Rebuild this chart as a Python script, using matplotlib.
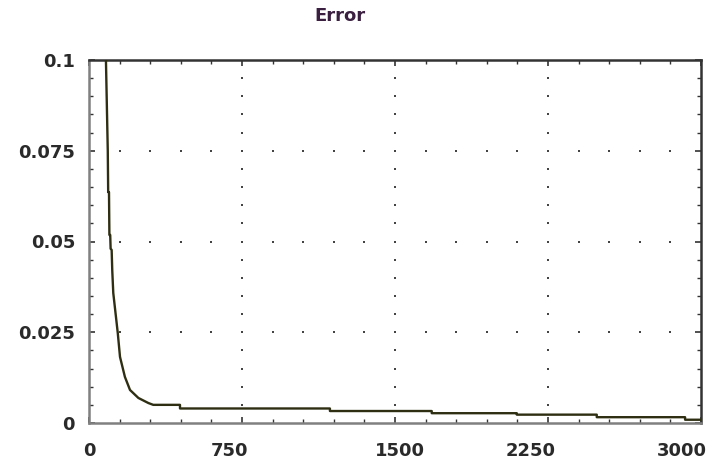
import matplotlib
matplotlib.use("Agg")
import matplotlib.pyplot as plt
import matplotlib.transforms as mtransforms
import numpy as np

# Data (iteration vs error)
iters = [78, 83, 92, 94, 98, 100, 104, 106, 111, 114, 119, 141, 152, 176, 201,
         242, 291, 315, 446, 446, 1181, 1181, 1680, 1680, 2097, 2097,
         2489, 2489, 2922, 2922, 3000]
errors = [0.102, 0.100, 0.075, 0.0636, 0.0636, 0.0518, 0.0518, 0.0480, 0.0477,
          0.0420, 0.0358, 0.0248, 0.0182, 0.0127, 0.0091, 0.0069, 0.0055,
          0.0050, 0.0050, 0.0040, 0.0040, 0.0033, 0.0033, 0.0027, 0.0027,
          0.0023, 0.0023, 0.0016, 0.0016, 0.0009, 0.0009]

x_major = [0, 750, 1500, 2250, 3000]
x_labels = ["0", "750", "1500", "2250", "3000"]
y_major = [0, 0.025, 0.05, 0.075, 0.1]
y_labels = ["0", "0.025", "0.05", "0.075", "0.1"]
x_minor_step = 150
y_minor_step = 0.005
title = "Error"

fig = plt.figure(figsize=(7.15, 4.68), dpi=100)
ax = fig.add_axes([89 / 715, 1 - 423 / 468, (701 - 89) / 715, (423 - 60) / 468])

ax.set_xlim(0, 3000)
ax.set_ylim(0, 0.1)

# dotted grid drawn as dots at minor positions
x_minor = np.arange(0, 3000 + 1, x_minor_step)
y_minor = np.arange(0, 0.1 + 1e-9, y_minor_step)
dot_color = "#444444"
for yv in y_major[1:-1]:
    ax.plot(x_minor[1:-1], [yv] * len(x_minor[1:-1]), ls="none", marker="s",
            ms=1.6, mew=0, color=dot_color, zorder=1)
for xv in x_major[1:-1]:
    ax.plot([xv] * len(y_minor[1:-1]), y_minor[1:-1], ls="none", marker="s",
            ms=1.6, mew=0, color=dot_color, zorder=1)

ax.plot(iters, errors, color="#2e2e12", lw=1.7, zorder=3, clip_on=True)

ax.set_xticks(x_major)
ax.set_xticklabels(x_labels)
ax.set_yticks(y_major)
ax.set_yticklabels(y_labels)
ax.set_xticks(x_minor, minor=True)
ax.set_yticks(y_minor, minor=True)

ax.tick_params(which="both", direction="in", top=True, right=True,
               colors="#333333")
ax.tick_params(which="major", length=4, width=1.2)
ax.tick_params(which="minor", length=3, width=1.0)
ax.tick_params(axis="x", which="major", pad=14, labelsize=13,
               labelcolor="#2a2a2a")
ax.tick_params(axis="y", which="major", pad=10, labelsize=13,
               labelcolor="#2a2a2a")
for lab in ax.get_xticklabels() + ax.get_yticklabels():
    lab.set_fontweight("bold")
    lab.set_family("DejaVu Sans")

# shift some x labels as in the reference
xl = ax.get_xticklabels()
xl[-1].set_transform(xl[-1].get_transform() +
                     mtransforms.ScaledTranslation(-19 / 100, 0, fig.dpi_scale_trans))
xl[-2].set_transform(xl[-2].get_transform() +
                     mtransforms.ScaledTranslation(-17 / 100, 0, fig.dpi_scale_trans))
xl[1].set_transform(xl[1].get_transform() +
                    mtransforms.ScaledTranslation(-12 / 100, 0, fig.dpi_scale_trans))
xl[2].set_transform(xl[2].get_transform() +
                    mtransforms.ScaledTranslation(5 / 100, 0, fig.dpi_scale_trans))

for side in ["top", "right"]:
    ax.spines[side].set_color("#333333")
    ax.spines[side].set_linewidth(1.8)
for side in ["left", "bottom"]:
    ax.spines[side].set_color("#808080")
    ax.spines[side].set_linewidth(1.8)

fig.text(340 / 715, 1 - 16 / 468, title, ha="center", va="center",
         fontsize=13, fontweight="bold", color="#3a1f40", family="DejaVu Sans")

fig.savefig("out.png", dpi=100)
